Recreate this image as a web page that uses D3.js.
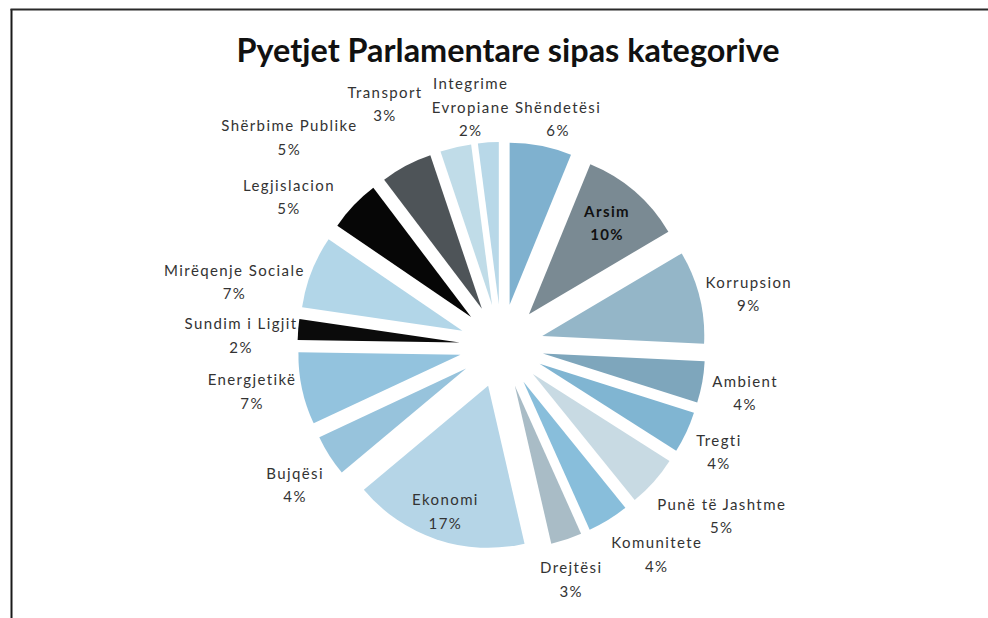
<!DOCTYPE html>
<html>
<head>
<meta charset="utf-8">
<script src="https://cdn.jsdelivr.net/npm/d3@7"></script>
<style>
  html, body { margin: 0; padding: 0; background: #ffffff; }
  svg { display: block; }
</style>
</head>
<body>
<script>
// ---- data ----
const categories = ["Shëndetësi", "Arsim", "Korrupsion", "Ambient", "Tregti", "Punë të Jashtme",
  "Komunitete", "Drejtësi", "Ekonomi", "Bujqësi", "Energjetikë", "Sundim i Ligjit",
  "Mirëqenje Sociale", "Legjislacion", "Shërbime Publike", "Transport", "Integrime Evropiane"];
const values = [6, 10, 9, 4, 4, 5, 4, 3, 17, 4, 7, 2, 7, 5, 5, 3, 2];
const percentLabels = ["6%", "10%", "9%", "4%", "4%", "5%", "4%", "3%", "17%", "4%", "7%", "2%",
  "7%", "5%", "5%", "3%", "2%"];
const colors = ["#7fb1cf", "#7a8a93", "#94b6c8", "#7ea6bc", "#80b5d2", "#c8dae3", "#88bedb",
  "#a9bcc6", "#b5d5e7", "#97c3dc", "#93c3de", "#0b0b0b", "#b2d6e8", "#060606", "#4e5458",
  "#c0dce8", "#b8d8e8"];
const titleText = "Pyetjet Parlamentare sipas kategorive";

// ---- layout ----
const W = 988, H = 618;
const cx = 501.5, cy = 346;
const radius = 162;     // slice radius
const explode = 42;     // explosion distance
const outerR = radius + explode;
// label placement (polar, relative to pie centre: angle in degrees clockwise from top, distance as factor of outerR)
const labelPolar = [
  [13.8, 1.148], [40.3, 0.795], [78, 1.236], [100.8, 1.212], [116, 1.182], [127.7, 1.36],
  [143.4, 1.271], [163.5, 1.192], [199, 0.855], [236.2, 1.222], [259.8, 1.246], [272.4, 1.281],
  [283.5, 1.35], [305, 1.276], [314.5, 1.463], [334.2, 1.32], [352.5, 1.182]
];
const boldLabels = new Set(["Arsim"]);
const ls = 1.4; // letter spacing of labels

const svg = d3.select("body").append("svg").attr("width", W).attr("height", H);
svg.append("rect").attr("width", W).attr("height", H).attr("fill", "#ffffff");

// frame lines
svg.append("line").attr("x1", 11.5).attr("x2", 11.5).attr("y1", 9).attr("y2", H)
  .attr("stroke", "#1a1a1a").attr("stroke-width", 2);
svg.append("line").attr("x1", 10.5).attr("x2", W).attr("y1", 9.5).attr("y2", 9.5)
  .attr("stroke", "#2a2a2a").attr("stroke-width", 2);

// title
svg.append("text")
  .attr("x", 508).attr("y", 62)
  .attr("text-anchor", "middle")
  .attr("font-family", "Lato, 'Open Sans', sans-serif")
  .attr("font-weight", "bold")
  .attr("font-size", 32)
  .attr("fill", "#111111")
  .attr("textLength", 543)
  .attr("lengthAdjust", "spacingAndGlyphs")
  .text(titleText);

const pie = d3.pie().sort(null).value(d => d)(values);
const arc = d3.arc().innerRadius(0).outerRadius(radius);

const g = svg.append("g").attr("transform", `translate(${cx},${cy})`);
g.selectAll("path.slice")
  .data(pie)
  .join("path")
  .attr("class", "slice")
  .attr("d", arc)
  .attr("fill", (d, i) => colors[i])
  .attr("transform", d => {
    const m = (d.startAngle + d.endAngle) / 2;
    return `translate(${explode * Math.sin(m)},${-explode * Math.cos(m)})`;
  });

// labels
const lh = 23.5;
pie.forEach((d, i) => {
  const name = categories[i];
  const lines = name === "Integrime Evropiane" ? ["Integrime", "Evropiane"] : [name];
  lines.push(percentLabels[i]);
  const a = labelPolar[i][0] * Math.PI / 180;
  const dist = labelPolar[i][1] * outerR;
  const x = dist * Math.sin(a) + ls / 2;
  const y = -dist * Math.cos(a);
  const t = g.append("text")
    .attr("text-anchor", "middle")
    .attr("font-family", "Lato, 'Open Sans', sans-serif")
    .attr("font-size", 15)
    .attr("letter-spacing", ls + "px")
    .attr("font-weight", boldLabels.has(name) ? "bold" : "normal")
    .attr("fill", boldLabels.has(name) ? "#111111" : "#333333");
  lines.forEach((ln, k) => {
    t.append("tspan")
      .attr("x", x)
      .attr("y", y + (k - (lines.length - 1) / 2) * lh)
      .attr("dominant-baseline", "central")
      .text(ln);
  });
});
</script>
</body>
</html>
